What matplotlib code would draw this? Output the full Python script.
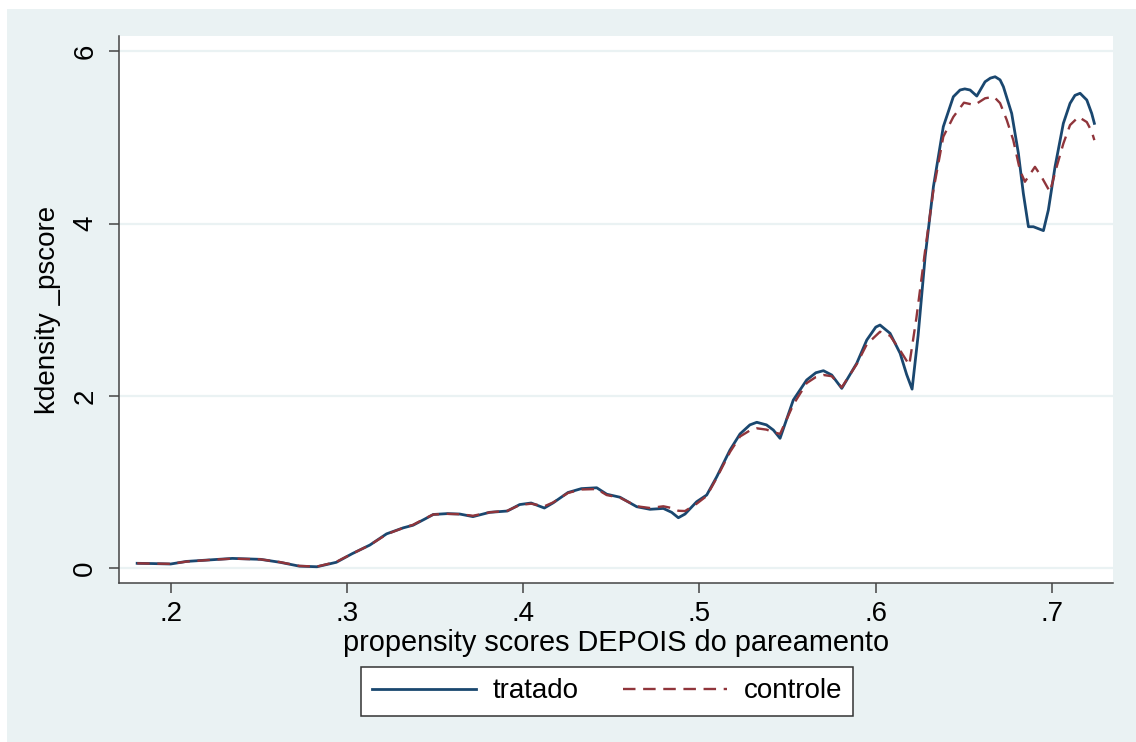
import matplotlib
matplotlib.use("Agg")
import matplotlib.pyplot as plt
from matplotlib.patches import Rectangle

plt.rcParams['font.family'] = ['Liberation Sans', 'DejaVu Sans']
plt.rcParams['lines.scale_dashes'] = False

# kernel density of the propensity score, treated group
x_tratado = [0.181, 0.190, 0.200, 0.209, 0.224, 0.235, 0.251, 0.262, 0.273, 0.283,
             0.294, 0.303, 0.313, 0.3225, 0.332, 0.3375, 0.344, 0.349, 0.357, 0.364,
             0.3715, 0.381, 0.391, 0.398, 0.4045, 0.412, 0.417, 0.4254, 0.433, 0.4417,
             0.4474, 0.4549, 0.4644, 0.4719, 0.4795, 0.4842, 0.488, 0.4918, 0.4984, 0.5041,
             0.5098, 0.5173, 0.523, 0.5286, 0.5325, 0.538, 0.5419, 0.5457, 0.5532, 0.5608,
             0.566, 0.5703, 0.575, 0.5807, 0.5892, 0.5949, 0.600, 0.6024, 0.6081, 0.6138,
             0.6175, 0.6206, 0.624, 0.628, 0.6327, 0.6383, 0.644, 0.6478, 0.6505, 0.6535,
             0.6573, 0.662, 0.665, 0.6677, 0.6705, 0.6724, 0.6771, 0.6809, 0.6837, 0.6866,
             0.6894, 0.6951, 0.6979, 0.7017, 0.7064, 0.7102, 0.713, 0.7159, 0.7197, 0.7225,
             0.724]
y_tratado = [0.058, 0.055, 0.050, 0.080, 0.100, 0.115, 0.104, 0.070, 0.025, 0.018,
             0.070, 0.170, 0.270, 0.400, 0.470, 0.500, 0.570, 0.625, 0.635, 0.630,
             0.600, 0.650, 0.665, 0.740, 0.758, 0.700, 0.760, 0.880, 0.925, 0.935,
             0.860, 0.825, 0.715, 0.685, 0.695, 0.650, 0.587, 0.630, 0.773, 0.851,
             1.063, 1.373, 1.560, 1.665, 1.695, 1.665, 1.605, 1.509, 1.953, 2.186,
             2.270, 2.294, 2.244, 2.089, 2.380, 2.650, 2.800, 2.824, 2.728, 2.496,
             2.250, 2.080, 2.700, 3.617, 4.430, 5.126, 5.474, 5.552, 5.565, 5.552,
             5.482, 5.648, 5.690, 5.706, 5.670, 5.590, 5.280, 4.817, 4.353, 3.965,
             3.965, 3.920, 4.159, 4.662, 5.165, 5.397, 5.490, 5.514, 5.436, 5.280,
             5.165]

# control group
x_controle = [0.181, 0.190, 0.200, 0.209, 0.224, 0.235, 0.251, 0.262, 0.273, 0.283,
              0.294, 0.303, 0.313, 0.3225, 0.332, 0.3375, 0.344, 0.349, 0.357, 0.364,
              0.3715, 0.381, 0.391, 0.398, 0.4045, 0.412, 0.417, 0.4254, 0.433, 0.4417,
              0.4474, 0.4549, 0.4644, 0.4719, 0.4795, 0.4842, 0.488, 0.4918, 0.4984, 0.5041,
              0.5098, 0.5173, 0.523, 0.5286, 0.5325, 0.538, 0.5419, 0.5457, 0.5532, 0.5608,
              0.566, 0.5703, 0.575, 0.5807, 0.5892, 0.5949, 0.6024, 0.6081, 0.6138, 0.619,
              0.623, 0.628, 0.6327, 0.6383, 0.644, 0.650, 0.656, 0.662, 0.667, 0.6705,
              0.6743, 0.678, 0.6818, 0.6846, 0.6903, 0.694, 0.6988, 0.7026, 0.7064, 0.7102,
              0.715, 0.7197, 0.7225, 0.724]
y_controle = [0.058, 0.055, 0.052, 0.078, 0.100, 0.112, 0.104, 0.072, 0.028, 0.020,
              0.075, 0.170, 0.270, 0.395, 0.470, 0.505, 0.575, 0.625, 0.632, 0.628,
              0.610, 0.650, 0.668, 0.735, 0.750, 0.720, 0.765, 0.875, 0.915, 0.920,
              0.850, 0.820, 0.720, 0.700, 0.720, 0.700, 0.668, 0.665, 0.750, 0.840,
              1.050, 1.350, 1.530, 1.600, 1.625, 1.610, 1.580, 1.560, 1.900, 2.150,
              2.220, 2.244, 2.230, 2.100, 2.370, 2.600, 2.746, 2.700, 2.530, 2.360,
              2.900, 3.690, 4.390, 5.010, 5.240, 5.405, 5.378, 5.456, 5.474, 5.400,
              5.204, 4.970, 4.620, 4.487, 4.660, 4.545, 4.370, 4.660, 4.930, 5.145,
              5.240, 5.180, 5.070, 4.970]

x_ticks = [0.2, 0.3, 0.4, 0.5, 0.6, 0.7]
x_ticklabels = ['.2', '.3', '.4', '.5', '.6', '.7']
y_ticks = [0, 2, 4, 6]

navy = '#1A476F'
maroon = '#90353B'
region = '#EAF2F3'
axis_col = '#444444'

fig = plt.figure(figsize=(11.36, 7.42), dpi=100, facecolor='white')
# graph region background, behind the axes
fig.patches.append(Rectangle((7 / 1136, 0), 1 - 7 / 1136, 1 - 9 / 742,
                             transform=fig.transFigure, facecolor=region,
                             edgecolor='none', zorder=-10))

ax = fig.add_axes([119 / 1136, 1 - 583.3 / 742, (1112.7 - 119) / 1136, (583.3 - 36) / 742])
ax.set_facecolor('white')

ax.plot(x_tratado, y_tratado, color=navy, lw=2.0, label='tratado', zorder=3,
        solid_joinstyle='round')
ax.plot(x_controle, y_controle, color=maroon, lw=1.7, dashes=(9, 5.5),
        label='controle', zorder=4)

ax.set_xlim(0.1707, 0.7344)
ax.set_ylim(-0.174, 6.179)

ax.set_xticks(x_ticks)
ax.set_xticklabels(x_ticklabels)
ax.set_yticks(y_ticks)
ax.set_yticklabels([str(v) for v in y_ticks], rotation=90, va='center')

ax.grid(axis='y', color=region, lw=1.6, zorder=1)
ax.grid(axis='x', visible=False)
ax.set_axisbelow(True)

for side in ['top', 'right']:
    ax.spines[side].set_visible(False)
for side in ['left', 'bottom']:
    ax.spines[side].set_color(axis_col)
    ax.spines[side].set_linewidth(1.1)

ax.tick_params(axis='both', colors=axis_col, labelcolor='black', width=1.1,
               length=7, labelsize=20)
ax.tick_params(axis='y', pad=8)
ax.tick_params(axis='x', pad=6)

ax.set_xlabel('propensity scores DEPOIS do pareamento', fontsize=20.8, labelpad=1)
ax.set_ylabel('kdensity _pscore', fontsize=20, labelpad=8)

leg = fig.legend(loc='center', bbox_to_anchor=(607 / 1136, 1 - 691.5 / 742),
                 ncol=2, fontsize=20, frameon=True, fancybox=False, framealpha=1,
                 handlelength=3.75, handletextpad=0.6, columnspacing=1.6,
                 borderpad=0.4)
leg.get_frame().set_edgecolor('#333333')
leg.get_frame().set_linewidth(1.1)
leg.get_frame().set_facecolor('white')

fig.savefig('out.png', dpi=100, facecolor=fig.get_facecolor())
